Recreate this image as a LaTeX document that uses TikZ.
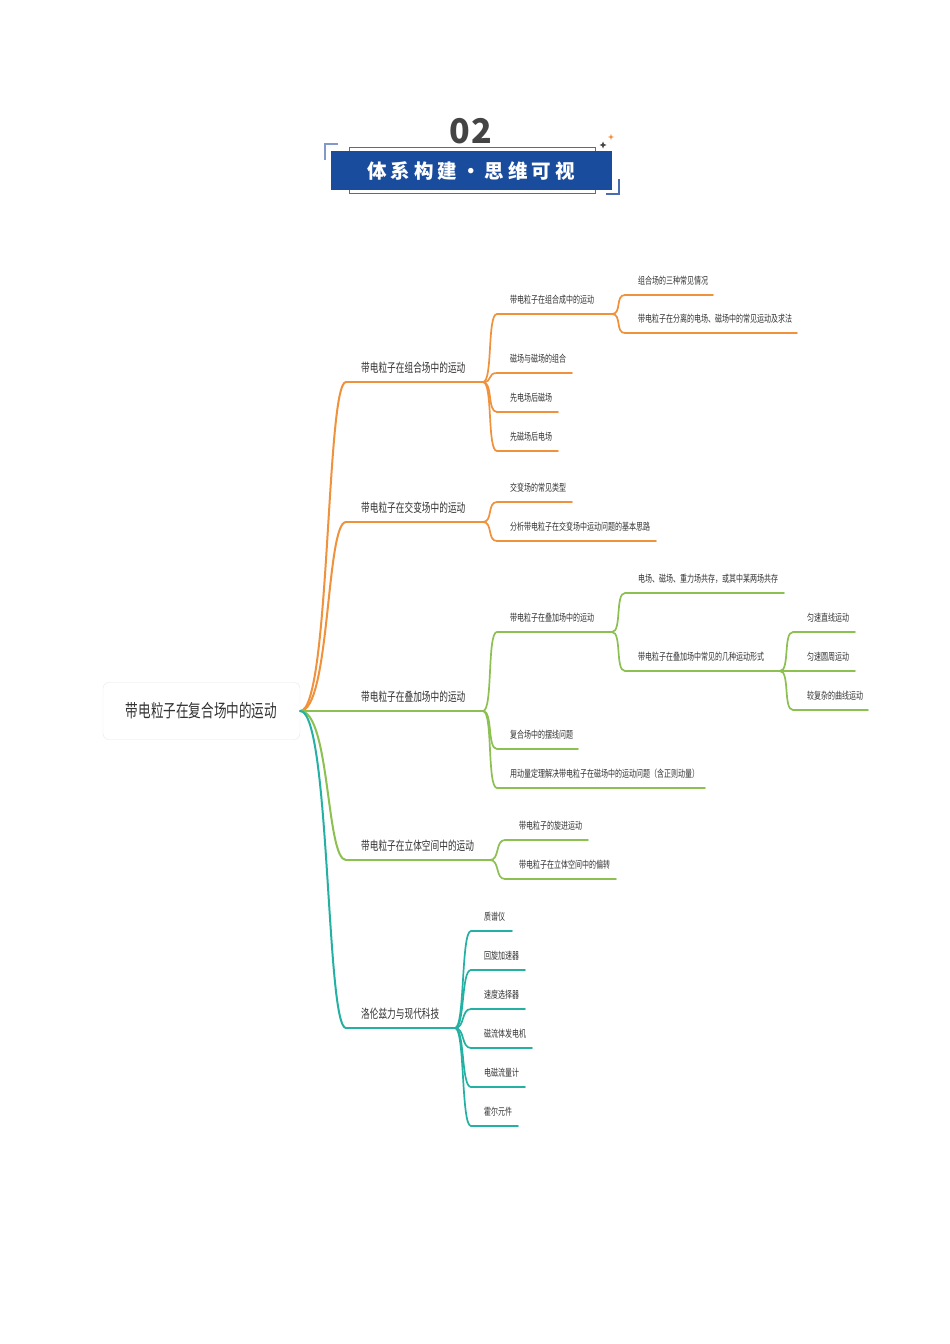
\documentclass[tikz,border=0pt]{standalone}
\usepackage{fontspec}
\newfontfamily\cjk[FakeStretch=0.7]{Noto Sans CJK SC}
\newfontfamily\cjkt{Noto Sans CJK SC}
\definecolor{orA}{HTML}{F0913C}
\definecolor{grA}{HTML}{8CC152}
\definecolor{tlA}{HTML}{25B0A4}
\definecolor{blA}{HTML}{1A4C9E}
\definecolor{frA}{HTML}{4A6DB0}
\definecolor{txt}{HTML}{333333}
\definecolor{numc}{HTML}{444444}
\tikzset{
  ln/.style={line width=1.7pt, line cap=round},
  lnone/.style={line width=2pt, line cap=round},
  tone/.style={font=\cjk\fontsize{12.4}{14}\selectfont, text=txt, inner sep=0pt, anchor=west},
  ttwo/.style={font=\cjk\fontsize{10}{12}\selectfont, text=txt, inner sep=0pt, anchor=west},
  rootbox/.style={draw=black!9, fill=white, rounded corners=6pt, minimum width=197pt, minimum height=57pt,
     font=\cjk\fontsize{18}{20}\selectfont, text=txt, inner sep=0pt},
}
% name, colour, xs, xe, y, text style, text offset, text
\newcommand\bnode[8]{%
  \coordinate (#1s) at (#3,#5);
  \coordinate (#1e) at (#4,#5);
  \node[#6] (#1) at ({#3+#7},{#5-14}) {#8};
  \draw[ln,#2] (#1s) -- (#1e);
}
\newcommand\conn[3]{\draw[ln,#1] (#2) .. controls +(10,0) and +(-10,0) .. (#3);}
\newcommand\rconn[2]{\draw[lnone,#1] (root.east) .. controls +(30,0) and +(-20,0) .. (#2);}
\newcommand\tsp{\hspace{4pt}}
\begin{document}
\begin{tikzpicture}[x=1pt,y=-1pt]
\useasboundingbox (0,0) rectangle (950,1344);
\fill[white] (0,0) rectangle (950,1344);

% ---------- header ----------
\node[font=\cjkt\bfseries\fontsize{34}{34}\selectfont, text=numc, inner sep=0pt] (num) at (470.5,131) {0\kern1.5pt 2};
\draw[frA, line width=0.8pt] (349,147) rectangle (595,193);
\fill[blA] (331,151) rectangle (612,190);
\node[font=\cjkt\bfseries\fontsize{19.5}{20}\selectfont, text=white, inner sep=0pt] (title) at (471,171)
  {体\tsp 系\tsp 构\tsp 建\tsp ・\tsp 思\tsp 维\tsp 可\tsp 视};
\draw[frA!70, line width=1.3pt] (325,160) -- (325,144) -- (338,144);
\draw[frA, line width=1.3pt] (619,179) -- (619,194) -- (606,194);
\fill[numc] (603,141.5) -- (604,144) -- (606.5,145) -- (604,146) -- (603,148.5) -- (602,146) -- (599.5,145) -- (602,144) -- cycle;
\fill[orA] (611,134) -- (611.8,136.2) -- (614,137) -- (611.8,137.8) -- (611,140) -- (610.2,137.8) -- (608,137) -- (610.2,136.2) -- cycle;

% ---------- root ----------
\node[rootbox] (root) at (201.5,711) {带电粒子在复合场中的运动};

% ---------- level 1 ----------
\bnode{bA}{orA}{346}{483}{382}{tone}{15}{带电粒子在组合场中的运动}
\bnode{bB}{orA}{346}{483}{522}{tone}{15}{带电粒子在交变场中的运动}
\bnode{bC}{grA}{346}{483}{711}{tone}{15}{带电粒子在叠加场中的运动}
\bnode{bD}{grA}{346}{490}{860}{tone}{15}{带电粒子在立体空间中的运动}
\bnode{bE}{tlA}{346}{455}{1028}{tone}{15}{洛伦兹力与现代科技}
\rconn{orA}{bAs}
\rconn{orA}{bBs}
\rconn{grA}{bCs}
\rconn{grA}{bDs}
\rconn{tlA}{bEs}

% ---------- branch A ----------
\bnode{cAa}{orA}{497}{612}{314}{ttwo}{13}{带电粒子在组合成中的运动}
\bnode{cAb}{orA}{497}{572}{373}{ttwo}{13}{磁场与磁场的组合}
\bnode{cAc}{orA}{497}{558}{412}{ttwo}{13}{先电场后磁场}
\bnode{cAd}{orA}{497}{558}{451}{ttwo}{13}{先磁场后电场}
\conn{orA}{bAe}{cAas}
\conn{orA}{bAe}{cAbs}
\conn{orA}{bAe}{cAcs}
\conn{orA}{bAe}{cAds}
\bnode{dAa}{orA}{625}{713}{295}{ttwo}{13}{组合场的三种常见情况}
\bnode{dAb}{orA}{625}{797}{333}{ttwo}{13}{带电粒子在分离的电场、磁场中的常见运动及求法}
\conn{orA}{cAae}{dAas}
\conn{orA}{cAae}{dAbs}

% ---------- branch B ----------
\bnode{cBa}{orA}{497}{572}{502}{ttwo}{13}{交变场的常见类型}
\bnode{cBb}{orA}{497}{656}{541}{ttwo}{13}{分析带电粒子在交变场中运动问题的基本思路}
\conn{orA}{bBe}{cBas}
\conn{orA}{bBe}{cBbs}

% ---------- branch C ----------
\bnode{cCa}{grA}{497}{612}{632}{ttwo}{13}{带电粒子在叠加场中的运动}
\bnode{cCb}{grA}{497}{578}{749}{ttwo}{13}{复合场中的摆线问题}
\bnode{cCc}{grA}{497}{705}{788}{ttwo}{13}{用动量定理解决带电粒子在磁场中的运动问题（含正则动量）}
\conn{grA}{bCe}{cCas}
\conn{grA}{bCe}{cCbs}
\conn{grA}{bCe}{cCcs}
\bnode{dCa}{grA}{625}{784}{593}{ttwo}{13}{电场、磁场、重力场共存，或其中某两场共存}
\bnode{dCb}{grA}{625}{780}{671}{ttwo}{13}{带电粒子在叠加场中常见的几种运动形式}
\conn{grA}{cCae}{dCas}
\conn{grA}{cCae}{dCbs}
\bnode{eCa}{grA}{793}{855}{632}{ttwo}{14}{匀速直线运动}
\bnode{eCb}{grA}{793}{855}{671}{ttwo}{14}{匀速圆周运动}
\bnode{eCc}{grA}{793}{868}{710}{ttwo}{14}{较复杂的曲线运动}
\conn{grA}{dCbe}{eCas}
\conn{grA}{dCbe}{eCbs}
\conn{grA}{dCbe}{eCcs}

% ---------- branch D ----------
\bnode{cDa}{grA}{505}{588}{840}{ttwo}{14}{带电粒子的旋进运动}
\bnode{cDb}{grA}{505}{616}{879}{ttwo}{14}{带电粒子在立体空间中的偏转}
\conn{grA}{bDe}{cDas}
\conn{grA}{bDe}{cDbs}

% ---------- branch E ----------
\bnode{cEa}{tlA}{471}{512}{931}{ttwo}{13}{质谱仪}
\bnode{cEb}{tlA}{471}{525}{970}{ttwo}{13}{回旋加速器}
\bnode{cEc}{tlA}{471}{525}{1009}{ttwo}{13}{速度选择器}
\bnode{cEd}{tlA}{471}{532}{1048}{ttwo}{13}{磁流体发电机}
\bnode{cEe}{tlA}{471}{525}{1087}{ttwo}{13}{电磁流量计}
\bnode{cEf}{tlA}{471}{518}{1126}{ttwo}{13}{霍尔元件}
\conn{tlA}{bEe}{cEas}
\conn{tlA}{bEe}{cEbs}
\conn{tlA}{bEe}{cEcs}
\conn{tlA}{bEe}{cEds}
\conn{tlA}{bEe}{cEes}
\conn{tlA}{bEe}{cEfs}
\end{tikzpicture}
\end{document}
